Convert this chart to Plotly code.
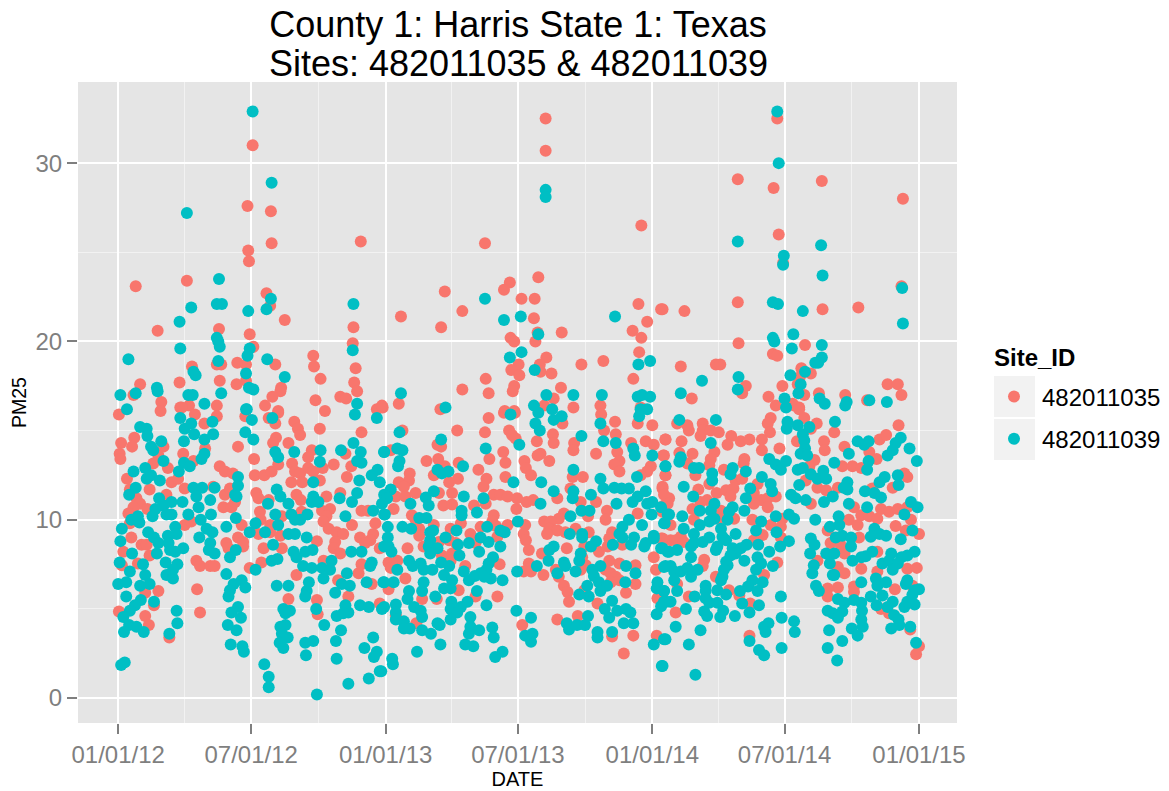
import pandas as pd
import plotly.graph_objects as go

# (days since 01/01/12, PM25)
site_1035_2012 = [(184,31.0),(177,27.6),(209,27.3),(210,25.5),(178,25.1),(179,24.5),(332,25.6),(24,23.1),(94,23.4),(203,22.7),(208,22.0),(228,21.2),(54,20.6),(138,20.7),(180,20.4),(322,20.8),(321,19.9),(185,19.7),(267,19.2),(268,18.6),(325,18.5),(101,18.6),(135,18.7),(141,18.7),(163,18.8),(175,18.7),(215,18.7),(277,17.9),(139,17.8),(175,17.8),(162,17.6),(84,17.7),(30,17.6),(21,17.0),(59,16.6),(85,16.3),(97,16.4),(135,16.4),(201,16.4),(223,17.4),(222,17.2),(211,16.9),(270,16.7),(304,16.9),(312,16.8),(323,17.7),(327,17.2),(354,16.2),(362,16.3),(283,16.1),(219,16.1),(58,16.1),
(1,15.9),(87,16.3),(105,15.9),(118,15.4),(135,15.8),(174,15.8),(219,16),(215,15.4),(206,15.7),(241,15.5),(246,15.1),(249,14.75),(276,15.1),(333,14.9),(4,14.3),(22,14.6),(19,14.1),(2,13.7),(3,13.4),(164,14.1),(216,14.6),(212,14.3),(233,14.3),(186,13.4),(265,13.9),(260,13.5),(295,13.1),(311,13.7),(319,13),(62,14.1),(55,13.6),(48,13.15),(68,12.9),(89,13.7),(103,13.3),(119,14),(139,13),(146,12.7),(157,12.6),(187,12.5),(200,12.5),(210,12.7),(219,13.1),(238,13.15),(242,12.7),(249,12.6),(260,12.9),(252,12.1),(237,12.1),(267,12.7),(280,12.9),(276,12.2),(313,12.4),(12,12.3),(16,11.7),(43,11.7),(73,12.1),(82,12.3),(91,11.75),(66,11.4),(25,11.2),(30,10.9),(21,10.7),(40,10.6),(14,10.35),(16,9.8),(146,11.4),(153,11.75),(144,10.7),(155,10.7),(160,11),(130,11.85),(189,11.5),(192,11.2),(206,11.1),(244,11.4),(250,11.1),(285,11.3),(304,11.5),(194,10.45),(195,10),(208,9.7),(224,10.2),(251,10.45),(279,10.5),(290,10.6),(285,10.2),(281,9.9),(288,9.5),(299,9.3),(308,9.2),(320,9.7),(333,10.5),(342,10.5),(352,9.8),(349,9.2),(345,8.85),(331,9),(338,8.7),(358,8.4),(297,8.75),(295,8.4),(304,8.1),(91,9.7),(100,9.9),(169,9.7),(164,9),(171,8.75),(171,8.5),(199,8.4),(192,9.2),(208,9.3),(222,9.1),(224,8.4),(272,8.8),(18,9),(32,8.6),(39,8.6),(7,8.2),(43,8),(148,8.7),(151,8.4),(107,7.7),(112,7.4),(126,7.4),(132,7.4),(180,7.3),(196,7.6),(27,7.55),(5,7.45),(244,6.9),(281,7.7),(329,7),(333,7.5),(347,6.4),(301,6.6),(315,5.7),(358,5.3),(55,6),(37,5.9),(49,5.2),(108,6.1),(112,4.8),(233,5.55),(272,5.5),(273,4.7),(1,4.85),(37,4.6),(42,4.1),(70,3.4)]

site_1035_2013 = [(585,32.5),(585,30.7),(716,26.5),(502,25.5),(575,23.6),(536,23.3),(528,22.9),(447,22.8),(552,22.4),(570,22.4),(743,21.8),(387,21.4),(471,21.7),(569,21.3),(712,22.1),(724,21.1),(704,20.6),(442,20.8),(574,20.5),(607,20.5),(716,20.2),(537,20.2),(542,20),(571,20),(713,19.4),(586,19.1),(548,18.7),(538,18.4),(549,18.1),(577,18.7),(578,18.3),(593,18.2),(634,18.7),(664,18.9),(503,17.9),(705,17.9),(471,17.3),(542,17.5),(540,17.2),(507,17.1),(606,17.4),(596,16.8),(384,16.5),(361,16.4),(583,16.4),(623,16.3),(660,16.4),(715,16.3),(441,16.2),(529,16.1),(542,16.1),
(507,15.7),(528,16),(543,16),(661,15.9),(680,15.5),(711,15.4),(731,15.3),(608,15.4),(665,15),(681,14.8),(464,15),(502,14.9),(389,15),(535,15),(539,14.75),(544,14.55),(573,14.4),(595,14.8),(596,14.3),(624,14.3),(623,13.9),(749,14.5),(437,14.2),(442,14.1),(373,13.9),(527,13.8),(578,13.7),(574,13.6),(654,13.7),(702,14.3),(722,14.4),(733,14.2),(746,13.6),(683,13.8),(686,13.3),(679,13.1),(686,12.7),(422,13.3),(438,13.4),(508,13.4),(530,13.2),(556,13.3),(590,13.3),(558,12.9),(565,12.5),(447,13),(466,13.2),(493,12.8),(729,13),(724,12.7),(715,12.5),(749,12.5),(399,12.6),(384,12.1),(398,12.2),(391,11.85),(432,12.5),(453,12.1),(465,12.3),(504,12.3),(530,12.4),(500,11.85),(622,12.4),(636,12.4),(619,11.75),(745,11.75),(380,11.3),(393,11.3),(407,11.5),(439,11.5),(457,11.5),(514,11.4),(523,11.4),(533,11.3),(546,11.2),(559,11),(568,11.1),(601,11.2),(633,11),(654,11),(754,11.2),(747,10.8),(445,10.8),(457,10.85),(503,10.9),(545,10.6),(377,10.6),(487,10.8),(669,10.5),(610,10.35),(603,10.05),(643,10.2),(667,10),(711,10.35),(402,10.25),(407,10),(514,10.25),(512,9.9),(583,9.9),(592,9.9),(412,9.5),(432,9.7),(455,9.5),(469,9.8),(496,9.6),(517,9.65),(533,9.7),(557,9.7),(590,9.5),(601,9.4),(612,9.3),(626,9.5),(644,9.3),(412,9.1),(555,9.2),(587,9.2),(482,9.2),(453,8.85),(439,8.75),(519,9.05),(558,8.85),(676,9.3),(672,8.95),(743,8.95),(756,8.85),(396,8.4),(418,8.5),(462,8.7),(489,8.7),(562,8.3),(614,8.4),(638,8.5),(658,8.2),(670,8.5),(635,7.9),(690,8.6),(370,7.6),(382,7.7),(373,7.3),(443,8),(457,8.1),(455,7.7),(580,8.1),(562,7.55),(672,7.7),(686,7.55),(708,7.45),(733,7.9),(736,7.2),(475,7.4),(522,7.5),(555,7.1),(565,7.1),(582,6.9),(393,6.7),(599,7.2),(603,6.8),(640,7.45),(633,7.2),(667,7.2),(674,7),(681,6.8),(674,6.5),(686,6.6),(708,6.4),(370,6.1),(466,6.05),(610,6.3),(615,5.95),(695,5.9),(416,5.55),(436,5.55),(489,5.7),(519,5.7),(638,6.05),(617,5.4),(656,5.3),(738,5.6),(380,4.65),(408,4.2),(601,4.4),(629,4.6),(553,4.1),(737,3.5),(676,3.45),(705,3.5),(692,2.5)]

site_1035_2014 = [(902,32.5),(848,29.1),(897,28.6),(963,29.0),(1074,28.0),(904,26.0),(910,24.4),(1072,23.1),(745,21.8),(775,21.7),(848,22.2),(964,21.8),(1013,21.9),(849,19.9),(940,19.8),(896,19.3),(902,19.2),(770,18.6),(818,18.7),(824,18.7),(935,18.5),(948,18.2),(933,18),(859,17.5),(854,17.1),(909,17.5),(930,17.6),(939,17),(1053,17.6),(1067,17.6),(1072,17),(959,17.1),(995,17),(1025,16.7),(785,16.8),(890,16.9),(900,16.4),(923,16.5),(932,16.3),
(925,16.4),(932,16.2),(939,15.7),(948,15.1),(956,15.4),(893,15.7),(889,15.4),(892,14.9),(765,15.4),(779,15.3),(781,15),(800,15.4),(797,14.7),(800,15),(811,15),(822,14.9),(839,14.7),(834,14.2),(852,14.4),(864,14.5),(881,14.5),(881,13.9),(905,14),(929,14.4),(966,14.4),(980,14.9),(967,13.9),(749,14.5),(771,14.4),(994,14.1),(1042,14.5),(1051,14.75),(1068,15.3),(1028,13.8),(1038,13.4),(747,13.6),(768,13.75),(786,13.7),(816,13.8),(811,13.4),(809,13.05),(779,13.15),(857,13.4),(856,13.15),(991,13),(1005,13),(1017,12.9),(953,13.35),(946,13),(829,12.8),(749,12.5),(790,12.5),(941,12.2),(845,12.2),(854,12.3),(809,12),(1080,12.4),(1076,12.6),(1060,11.8),(745,11.85),(747,11.4),(752,10.9),(794,11.7),(819,11.5),(832,11.65),(842,11.75),(838,11.3),(875,12),(870,11.5),(880,11.1),(889,11.2),(900,11.3),(870,10.9),(889,10.7),(957,11.8),(969,11.65),(985,11.8),(1032,11.75),(948,10.9),(797,11),(806,11.1),(786,10.6),(825,10.5),(1007,10.7),(1044,10.6),(1055,10.45),(1067,10.6),(1080,10.7),(1017,10.25),(1000,10),(1028,10.2),(1039,10.05),(1085,10),(745,10.45),(788,10),(756,9.7),(822,10.05),(843,10.05),(868,10),(893,9.7),(909,10.05),(907,9.6),(1012,9.7),(1014,9),(1064,9.65),(1078,9.4),(1096,9.2),(971,9.4),(770,9.05),(763,8.85),(774,8.75),(745,8.95),(882,9.15),(870,8.85),(907,9),(975,8.7),(989,8.55),(994,8.1),(802,7.75),(800,7.4),(902,7.6),(1039,8.2),(957,7.7),(985,7.35),(994,7),(1017,7.25),(1080,7.25),(1093,7.3),(1039,7.1),(818,6.8),(884,6.9),(765,6.4),(985,6.2),(971,6.15),(1007,6.25),(1007,5.95),(1063,6.1),(1087,6.3),(836,6.05),(781,5.7),(971,5.7),(865,5.3),(850,5.75),(763,4.8),(1044,5),(1055,4.75),(1084,3.85),(864,3.5),(1096,2.9),(1092,2.45)]

site_1039_2012 = [(184,32.9),(210,28.9),(94,27.2),(138,23.5),(135,22.1),(142,22.1),(100,21.9),(178,21.7),(209,22.4),(203,21.8),(322,22.1),(84,21.1),(85,19.6),(135,20.2),(137,20.0),(139,19.7),(180,19.6),(177,19.2),(321,19.5),(14,19.0),(204,19.0),(137,18.9),(103,18.3),(106,18.1),(175,18.2),(228,18.0),(53,17.4),(54,17.2),(3,17.0),(24,17.1),(96,17.0),(102,17.0),(141,17.1),(179,17.4),(185,17.3),(118,16.5),(327,16.5),(12,16.2),(175,16.2),
(85,15.7),(100,15.4),(91,15.1),(104,14.8),(129,15.5),(130,14.8),(118,14.5),(90,14.4),(30,15.2),(39,15.1),(40,14.7),(59,14.4),(45,14.1),(48,13.9),(62,13.3),(118,13.7),(114,13.4),(90,13.2),(98,13.0),(83,12.7),(21,12.7),(37,12.9),(39,12.3),(45,12.5),(57,12.2),(24,11.8),(15,11.4),(103,11.8),(115,11.8),(132,11.8),(56,11.2),(62,10.8),(73,11.0),(88,11.0),(51,10.6),(47,10.2),(66,10.3),(73,10.3),(107,11.3),(126,11.1),(110,10.7),(127,10.3),(113,10.0),(96,10.3),(18,10.0),(27,10.2),(29,9.85),(5,9.5),(3,8.8),(78,9.6),(80,9.2),(41,9.3),(49,9.0),(55,8.7),(68,9.1),(69,8.7),(71,8.3),(78,8.2),(89,8.4),(121,9.5),(129,9.3),(111,9.0),(126,8.7),(124,8.3),(132,8.1),(19,8.1),(53,8.1),(2,7.6),(34,7.5),(65,7.6),(81,7.5),(16,7.1),(37,6.9),(75,7.2),(66,6.9),(75,6.7),(0,6.4),(11,6.5),(30,6.3),(43,6.4),(11,5.7),(49,5.4),(31,5.5),(23,5.2),(16,4.9),(7,4.55),(80,4.9),(81,4.2),(15,4.1),(25,4.0),(35,3.7),(8,3.7),(70,3.6),(4,1.85),(9,2.0),
(148,9.6),(161,10.1),(160,11.4),(164,12.4),(164,11.9),(162,11.3),(176,16.2),(183,15.6),(174,14.9),(185,14.5),(211,15.7),(215,13.8),(219,13.5),(241,13.8),(277,13.9),(276,13.25),(305,13.9),(322,14.3),(332,13.8),(327,13.3),(333,13.2),(267,12.1),(330,12.2),(347,12.5),(355,12.8),(358,12.1),(364,13.8),(354,15.7),(324,15.9),(217,11.7),(222,11.3),(205,10.9),(233,10.9),(267,11.3),(265,11.0),(274,11.0),(303,11.2),(320,11.0),(327,11.5),(215,10.3),(237,10.3),(242,10.0),(249,10.0),(259,10.3),(219,9.7),(188,9.8),(180,9.3),(201,9.3),(233,9.2),(242,9.2),(258,9.0),(212,8.6),(311,10.2),(349,10.5),(364,10.3),(240,8.2),(244,7.9),(256,8.2),(266,8.3),(319,8.2),(333,8.2),(161,8.3),(153,7.9),(210,7.7),(218,7.8),(188,7.2),(253,7.4),(265,7.3),(279,7.3),(292,7.7),(290,7.2),(281,6.7),(313,7.0),(347,7.6),(345,7.4),(340,6.5),(363,6.5),(148,6.95),(169,6.6),(174,6.2),(158,6.4),(153,6.05),(151,5.7),(217,6.3),(233,6.3),(261,6.5),(258,6.0),(256,5.7),(317,6.3),(306,6.4),(297,5.9),(311,5.2),(315,4.8),(299,4.6),(308,4.75),(331,5.2),(343,5.1),(361,5.0),(164,5.1),(155,4.8),(168,4.5),(150,4.1),(162,3.8),(226,5.0),(235,4.9),(229,4.75),(229,4.1),(222,4.0),(224,3.6),(232,3.4),(221,3.1),(226,2.8),(271,5.0),(282,4.1),(305,3.8),(298,3.2),(299,2.2),(267,3.2),(256,3.1),(257,2.4),(349,3.4),(337,2.8),(354,2.6),(350,2.3),(358,1.5),(343,1.1),(315,0.8),(272,0.2),(154,3.0),(170,2.9),(172,2.6),(200,1.9),(206,1.2),(206,0.6)]

site_1039_2013 = [(585,28.5),(585,28.1),(502,22.4),(551,21.4),(528,21.2),(680,21.4),(575,20.4),(552,19.4),(536,19.1),(570,18.4),(728,18.9),(712,18.7),(387,17.1),(448,16.3),(586,17),(623,17),(662,17),(711,16.9),(717,17),(728,16.9),(569,16.4),(594,16.2),(715,16.2),(724,16.2),
(575,16),(596,15.6),(607,15.8),(537,15.9),(571,15.4),(577,15),(660,15.4),(713,15.8),(634,14.7),(664,14.4),(681,14.3),(549,14.2),(385,14.9),(442,14.5),(503,14),(705,14),(707,13.6),(731,13.6),(749,13),(382,14),(389,13.9),(364,13.8),(385,13.3),(383,13),(623,12.8),(472,13),(437,12.8),(443,12.6),(452,12.7),(710,12.4),(660,12.3),(579,12.1),(541,12.1),(432,11.6),(596,11.6),(623,11.6),(622,11.2),(647,11.4),(664,11.75),(679,11.8),(689,11.75),(699,11.75),(722,11.6),(373,11.7),(364,11.4),(368,11.2),(361,10.9),(421,11.25),(425,10.8),(400,10.9),(473,11.3),(500,11.2),(578,10.9),(682,10.9),(711,11.3),(704,11),(724,10.9),(731,11),(743,10.7),(470,10.5),(470,10.25),(491,10.4),(365,10.3),(412,10.1),(422,10.1),(634,10.5),(645,10.5),(619,10.2),(730,10.3),(752,10.3),(547,9.9),(369,9.6),(389,9.6),(401,9.5),(505,9.6),(463,9.4),(523,9.4),(529,9.3),(747,9.8),(717,9.7),(699,10),(690,9.6),(686,9.2),(618,9.2),(635,9.2),(427,9.3),(431,9.4),(369,9),(448,9),(496,9),(507,8.75),(427,8.85),(465,8.6),(480,8.7),(523,8.5),(635,9),(654,8.8),(647,8.5),(677,8.6),(690,9),(706,9),(702,8.6),(722,8.7),(720,8.5),(733,9.1),(733,8.95),(743,8.4),(752,8.2),(364,8.5),(370,8.5),(374,8.2),(425,8.5),(437,8.4),(427,8.1),(494,8.2),(467,8),(513,7.9),(596,8.5),(590,8.3),(589,7.7),(633,8.1),(631,7.7),(610,7.6),(612,7.4),(573,7.4),(695,7.4),(749,7.4),(398,7.7),(403,7.4),(414,7.55),(418,7.2),(442,7.6),(453,7.4),(430,7.2),(382,7.2),(507,7.55),(504,7.2),(496,7),(488,6.85),(473,7.1),(546,7.1),(626,7.1),(601,7),(708,7),(660,7.4),(649,7.2),(651,6.85),(446,6.9),(510,6.7),(526,6.6),(501,6.8),(480,6.6),(457,6.6),(364,6.5),(377,6.5),(418,6.5),(694,6.5),(658,6.5),(669,6.3),(642,6.3),(738,6.5),(446,6.15),(455,6.15),(491,6),(416,6),(398,6),(434,5.7),(660,6),(737,6.15),(747,6),(631,5.8),(644,5.7),(676,5.45),(396,5.55),(504,5.2),(478,5.4),(469,5.1),(456,5.4),(455,5),(464,4.8),(380,5.25),(364,5.1),(405,5.1),(414,4.9),(750,5.4),(743,5.15),(545,4.9),(666,5),(683,4.9),(695,5),(701,4.8),(737,4.7),(380,4.8),(416,4.55),(455,4.4),(482,4.55),(565,4.5),(643,4.6),(672,4.5),(380,4.4),(391,4.3),(391,3.9),(399,3.9),(416,3.8),(428,3.6),(437,4.2),(440,4.1),(482,4),(494,3.8),(480,3.6),(512,3.95),(514,3.4),(614,4.2),(617,3.85),(628,4.1),(639,4.1),(692,4.2),(705,4.2),(656,3.7),(656,3.4),(676,3.7),(557,3.5),(567,3.6),(565,3.15),(441,3),(475,3),(486,2.9),(409,2.6),(526,2.6),(516,2.3),(375,2.2),(376,1.9),(360,1.5),(733,3),(747,3.3),(744,1.8)]

site_1039_2014 = [(902,32.9),(904,30),(848,25.6),(962,25.4),(911,24.8),(910,24.3),(964,23.7),(1073,23),(896,22.2),(903,22.1),(937,21.7),(1074,21),(896,20.2),(898,20),(924,20.4),(922,19.6),(963,19.8),(963,19.1),(958,18.8),(954,18.8),(920,18.1),(940,18.3),(849,18),(848,17.3),(799,17.8),(770,17.1),(934,17.6),(931,17.1),(912,16.8),(914,16.3),(960,16.8),(967,16.5),(997,16.6),(995,16.4),(1028,16.7),(1052,16.6),
(768,15.6),(818,15.6),(916,15.5),(915,15.1),(930,15.3),(946,15.2),(981,15.5),(937,14.8),(939,14.45),(811,14.3),(1071,14.6),(1064,14.3),(1012,14.4),(1027,14.4),(1021,14.2),(940,14),(934,13.7),(943,13.6),(1083,14),(1060,13.9),(1053,13.6),(1000,13.7),(770,13.5),(768,13.25),(749,13),(891,13.4),(900,13.1),(907,12.8),(914,13.3),(930,12.8),(937,12.9),(980,13.2),(1027,13.3),(1025,12.8),(1093,13.3),(788,12.9),(795,12.9),(813,12.6),(813,12.2),(841,12.9),(838,12.55),(859,12.7),(881,12.4),(893,12),(895,11.6),(948,12.55),(957,12.3),(965,12.75),(969,12.3),(932,11.95),(1049,12.4),(1042,12.1),(1067,12.5),(1068,11.95),(998,12.1),(998,11.7),(993,11.8),(774,11.85),(787,11.3),(865,11.75),(859,11.2),(921,11.4),(927,11.2),(941,11.1),(966,11),(978,11.3),(1022,11.6),(1035,11.5),(1044,11.25),(1000,10.9),(1085,11),(1094,10.7),(796,10.5),(816,10.9),(811,10.5),(841,10.7),(836,10.45),(857,10.5),(1025,10.7),(1076,10.3),(918,10.3),(925,10.05),(900,10.2),(954,10),(986,10.2),(754,10.3),(772,10.2),(748,9.8),(816,10.05),(809,9.9),(796,9.7),(834,10),(880,9.9),(987,9.7),(974,9.6),(1087,9.4),(1035,9.5),(774,9.5),(825,9.5),(873,9.4),(901,9.3),(788,9.2),(845,9.2),(827,9.05),(1030,9.05),(1042,9.2),(1051,9.1),(1071,8.9),(918,8.8),(948,8.95),(982,9),(991,9.1),(1003,9),(809,9),(800,8.75),(788,8.7),(784,8.5),(832,8.85),(820,8.5),(818,8.3),(876,8.6),(860,8.6),(852,8.4),(841,8.4),(906,8.5),(953,8.6),(1003,8.5),(745,8.4),(754,8.2),(765,8.3),(845,8.1),(838,8),(891,8.2),(947,8.1),(969,8.1),(980,8.1),(1032,8.2),(1090,8.2),(1080,8),(1072,7.9),(1058,8.1),(784,7.9),(1005,7.7),(1017,7.9),(1023,7.95),(857,7.7),(832,7.65),(834,7.45),(875,7.9),(880,7.55),(896,7.4),(873,7.2),(974,7.55),(952,7.45),(1046,7.55),(1055,7.7),(1067,7.55),(1060,7.2),(756,7.4),(747,7.35),(761,7.1),(770,7.1),(779,7.3),(793,7.2),(829,7.2),(827,6.8),(784,6.8),(950,7),(978,6.9),(980,6.9),(825,6.6),(761,6.6),(765,6),(804,6.3),(804,6),(882,6.5),(868,6.6),(862,6.25),(1037,6.7),(1039,6.3),(1051,6.5),(1017,6.5),(1080,6.6),(1078,6.4),(955,6.3),(959,6),(747,6),(820,6.05),(832,5.8),(851,6),(875,6),(907,5.7),(789,5.7),(804,5.6),(809,5.35),(820,5.35),(747,5.4),(756,5.4),(854,5.3),(877,5.2),(985,5.55),(994,5.35),(1007,5.5),(1017,5.35),(1030,5.7),(1046,5.75),(1038,5.2),(1060,5.4),(1053,5.1),(1076,5.1),(1080,5.4),(1090,6.05),(1096,6.1),(1087,5.8),(1090,5.25),(777,5),(802,4.85),(806,4.6),(828,4.9),(824,4.55),(844,4.6),(864,4.8),(971,4.9),(978,4.75),(991,4.85),(985,4.5),(1018,4.9),(1062,4.65),(1068,4.4),(763,4),(797,3.8),(884,4),(890,4.2),(886,3.7),(908,4.5),(925,4.3),(926,3.7),(973,3.8),(1004,3.9),(1012,3.5),(1019,4),(1017,4.4),(1058,3.9),(1069,4.1),(1084,4),(749,3.3),(781,3),(864,3.2),(877,2.7),(884,2.4),(908,2.8),(971,2.8),(991,3.2),(984,2.1),(1092,3.1),(745,1.8),(790,1.3)]

site_names = ["482011035", "482011039"]
site_colors = ["#F8766D", "#00BFC4"]
tick_dates = ["2012-01-01", "2012-07-01", "2013-01-01", "2013-07-01", "2014-01-01", "2014-07-01", "2015-01-01"]
tick_labels = ["01/01/12", "07/01/12", "01/01/13", "07/01/13", "01/01/14", "07/01/14", "01/01/15"]
minor_dates = ["2012-04-01", "2012-10-01", "2013-04-01", "2013-10-01", "2014-04-01", "2014-10-01"]
y_ticks = [0, 10, 20, 30]
y_minor = [5, 15, 25]
title_lines = ["County 1: Harris State 1: Texas", "Sites: 482011035 &amp; 482011039"]

START = pd.Timestamp("2012-01-01")
L, R, T, B = 78, 957, 82, 723
W, H = 1169, 791


def to_xy(points):
    days, values = zip(*points)
    return START + pd.to_timedelta(list(days), unit="D"), list(values)


def px(x):
    return (x - L) / (R - L)


def py(y):
    return 1 - (y - T) / (B - T)


series = [site_1035_2012 + site_1035_2013 + site_1035_2014,
          site_1039_2012 + site_1039_2013 + site_1039_2014]

fig = go.Figure()
for name, color, pts in zip(site_names, site_colors, series):
    x, y = to_xy(pts)
    fig.add_trace(go.Scatter(x=x, y=y, mode="markers", name=name, legendgroup=name,
                             marker=dict(color=color, size=12, line=dict(width=0))))

FONT = "Liberation Sans, Arial, sans-serif"
fig.update_layout(
    width=W, height=H, autosize=False,
    margin=dict(l=L, r=W - R, t=T, b=H - B),
    paper_bgcolor="white", plot_bgcolor="#E5E5E5",
    font=dict(family=FONT, color="black"),
    title=dict(text=title_lines[0], x=px(518), xanchor="center", xref="paper",
               y=1 - 24 / H, yanchor="middle", font=dict(size=36, color="black")),
    annotations=[
        dict(text=title_lines[1], x=px(518), y=py(63), xref="paper", yref="paper",
             xanchor="center", yanchor="middle", showarrow=False,
             font=dict(size=36, color="black")),
        dict(text="<b>Site_ID</b>", x=px(994), y=py(357), xref="paper", yref="paper",
             xanchor="left", yanchor="middle", showarrow=False, xshift=-2,
             font=dict(size=24, color="black")),
    ],
    xaxis=dict(type="date", range=["2011-11-07", "2015-02-22"],
               tickmode="array", tickvals=tick_dates, ticktext=tick_labels,
               showgrid=True, gridcolor="white", gridwidth=2,
               zeroline=False, showline=False, ticks="outside", ticklen=10,
               tickcolor="#7F7F7F", tickwidth=1.5,
               tickfont=dict(size=24, color="#7F7F7F"),
               minor=dict(tickmode="array", tickvals=minor_dates, showgrid=True,
                          gridcolor="#F2F2F2", gridwidth=1, ticks=""),
               title=dict(text="DATE", font=dict(size=20, color="black"), standoff=3),
               automargin=False),
    yaxis=dict(range=[-1.40, 34.55], tickmode="array", tickvals=y_ticks,
               showgrid=True, gridcolor="white", gridwidth=2,
               zeroline=False, showline=False, ticks="outside", ticklen=10,
               tickcolor="#7F7F7F", tickwidth=1.5,
               tickfont=dict(size=24, color="#7F7F7F"),
               minor=dict(tickmode="array", tickvals=y_minor, showgrid=True,
                          gridcolor="#F2F2F2", gridwidth=1, ticks=""),
               title=dict(text="PM25", font=dict(size=19.5, color="black"), standoff=3),
               automargin=False),
    legend=dict(xref="container", yref="container",
                x=986 / W, xanchor="left",
                y=1 - 374.5 / H, yanchor="top",
                bgcolor="rgba(0,0,0,0)", borderwidth=0,
                font=dict(size=24, color="black"),
                itemsizing="trace", itemwidth=46, tracegroupgap=8),
    shapes=[
        dict(type="rect", xref="paper", yref="paper", layer="below", line=dict(width=0),
             fillcolor="#F2F2F2", x0=px(994), x1=px(1035), y0=py(417), y1=py(376)),
        dict(type="rect", xref="paper", yref="paper", layer="below", line=dict(width=0),
             fillcolor="#F2F2F2", x0=px(994), x1=px(1035), y0=py(460), y1=py(419)),
    ],
)
fig.write_html("out.html", config=dict(displayModeBar=False, responsive=False),
               post_script="document.body.style.margin='0';document.body.style.overflow='hidden';")
